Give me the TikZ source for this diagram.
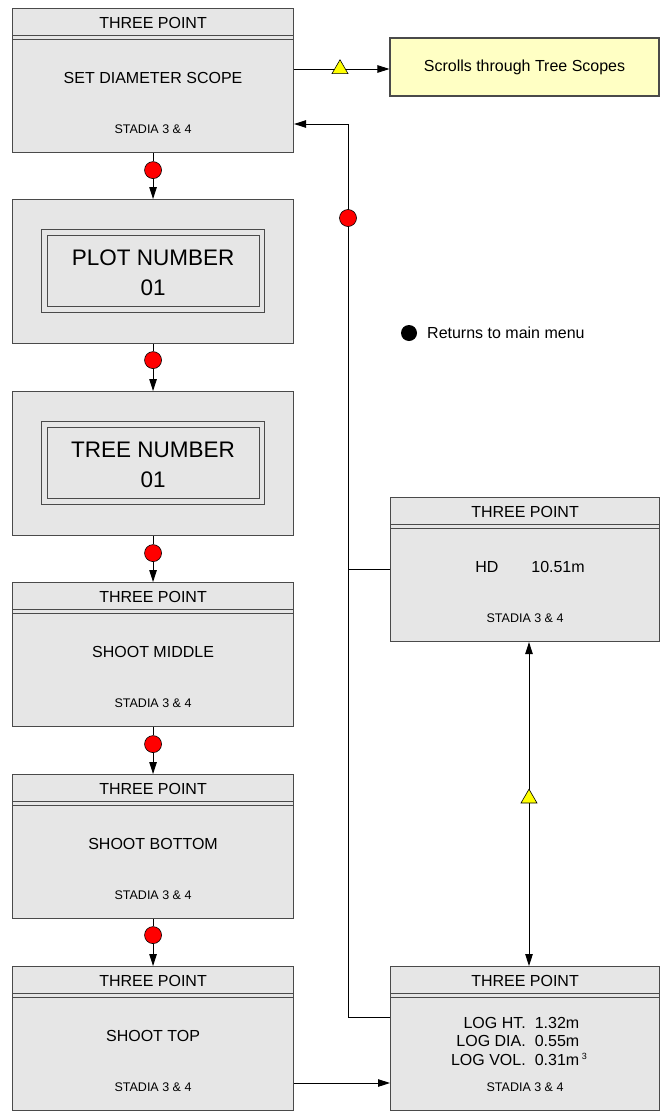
\documentclass[tikz,border=0pt]{standalone}
\usepackage{fontspec}
\setmainfont{Liberation Sans}
\usetikzlibrary{arrows.meta,calc,shapes.geometric}

\definecolor{panelfill}{HTML}{E6E6E6}
\definecolor{edgegray}{HTML}{4A4A4A}
\definecolor{notefill}{HTML}{FFFFC4}
\definecolor{flag}{HTML}{FFFF00}

\newcommand\hdrsize{\fontsize{16}{19}\selectfont}
\newcommand\smallsize{\fontsize{12.5}{15}\selectfont}
\newcommand\bigsize{\fontsize{22.5}{26}\selectfont}

% a screen panel: title bar with a double rule, and a STADIA footer
\newcommand\screenbox[3]{%
  \node[panel, minimum width=#3] (#1) at (#2) {};
  \draw[rule] ($(#1.north west)+(0,27)$) -- ($(#1.north east)+(0,27)$);
  \draw[rule] ($(#1.north west)+(0,31)$) -- ($(#1.north east)+(0,31)$);
  \node[hdr] (#1-hdr) at ($(#1.north)+(0,15)$) {THREE POINT};
  \node[stadia] (#1-st) at ($(#1.north)+(0,121)$) {STADIA 3 \& 4};
}

% an entry panel: a framed two-line number display
\newcommand\numberbox[3]{%
  \node[panel] (#1) at (#2) {};
  \draw[rule] ($(#1.north west)+(29,30)$) rectangle ($(#1.north west)+(252,113)$);
  \draw[rule] ($(#1.north west)+(35,36)$) rectangle ($(#1.north west)+(247,107)$);
  \node[big] (#1-a) at ($(#1.north)+(0,59)$) {#3};
  \node[big] (#1-b) at ($(#1.north)+(0,89)$) {01};
}

\tikzset{
  panel/.style={draw=edgegray, fill=panelfill, line width=1.1pt, anchor=north west,
    minimum width=281pt, minimum height=144pt, inner sep=0pt},
  rule/.style={draw=edgegray, line width=1pt},
  hdr/.style={font=\hdrsize, inner sep=0pt},
  body/.style={font=\hdrsize, inner sep=0pt},
  stadia/.style={font=\smallsize, inner sep=0pt},
  big/.style={font=\bigsize, inner sep=0pt},
  link/.style={draw=black, line width=0.9pt},
  arr/.style={link, -{Triangle[length=12pt,width=7.5pt]}},
  twoway/.style={link, {Triangle[length=12pt,width=7.5pt]}-{Triangle[length=12pt,width=7.5pt]}},
  reddot/.style={circle, fill=red, draw=black, line width=0.6pt, minimum size=17pt, inner sep=0pt},
  flagtri/.style={regular polygon, regular polygon sides=3, fill=flag, draw=black,
    line width=0.6pt, minimum size=18.5pt, inner sep=0pt},
}

\begin{document}
\begin{tikzpicture}[x=1pt, y=-1pt]
\useasboundingbox (0,0) rectangle (660,1111);

% left column of screens
\screenbox{scope}{12,8}{281pt}
\node[body] (scope-txt) at ($(scope.north)+(0,70)$) {SET DIAMETER SCOPE};
\numberbox{plot}{12,199}{PLOT NUMBER}
\numberbox{tree}{12,391}{TREE NUMBER}
\screenbox{middle}{12,582}{281pt}
\node[body] (middle-txt) at ($(middle.north)+(0,70)$) {SHOOT MIDDLE};
\screenbox{bottom}{12,774}{281pt}
\node[body] (bottom-txt) at ($(bottom.north)+(0,70)$) {SHOOT BOTTOM};
\screenbox{top}{12,966}{281pt}
\node[body] (top-txt) at ($(top.north)+(0,70)$) {SHOOT TOP};

% right column
\node[draw=edgegray, fill=notefill, line width=1.1pt, minimum width=269pt, minimum height=58pt,
  inner sep=0pt, font=\hdrsize] (note) at (524.5,67) {Scrolls through Tree Scopes};
\screenbox{hd}{390,497}{269pt}
\node[body] (hd-txt) at (530,567) {HD\hspace{33pt}10.51m};
\screenbox{log}{390,966}{269pt}
\node[body, align=left] (log-txt) at (519,1043) {%
  \begin{tabular}{@{}r@{\hspace{9pt}}l@{}}
  LOG HT. & 1.32m\\[-0.5pt]
  LOG DIA. & 0.55m\\[-0.5pt]
  LOG VOL. & 0.31m\,\raisebox{6pt}{\fontsize{9}{9}\selectfont 3}
  \end{tabular}};

% legend
\node[circle, fill=black, minimum size=16pt, inner sep=0pt] (bullet) at (409,333) {};
\node[body, anchor=west] (legend) at (427,333) {Returns to main menu};

% main sequence down the left column
\node[reddot] (d1) at ($(scope.south)+(0,17)$) {};
\node[reddot] (d2) at ($(plot.south)+(0,16)$) {};
\node[reddot] (d3) at ($(tree.south)+(0,17)$) {};
\node[reddot] (d4) at ($(middle.south)+(0,17)$) {};
\node[reddot] (d5) at ($(bottom.south)+(0,16)$) {};
\draw[link] (scope) -- (d1); \draw[arr] (d1) -- (plot);
\draw[link] (plot) -- (d2);  \draw[arr] (d2) -- (tree);
\draw[link] (tree) -- (d3);  \draw[arr] (d3) -- (middle);
\draw[link] (middle) -- (d4); \draw[arr] (d4) -- (bottom);
\draw[link] (bottom) -- (d5); \draw[arr] (d5) -- (top);

% scope scrolling: the line passes under the marker
\coordinate (sy) at (0,69);
\draw[arr] (scope.east |- sy) -- (note.west |- sy);
\node[flagtri] (t1) at (340,69) {};

% result panels
\coordinate (ry) at (0,1083);
\draw[arr] (top.east |- ry) -- (log.west |- ry);
\coordinate (vx) at (529,0);
\draw[twoway] (hd.south -| vx) -- (log.north -| vx);
\node[flagtri] (t2) at (529,798.4) {};

% return path to the scope screen
\coordinate (jl) at (348,1017);
\coordinate (jt) at (348,124);
\draw[arr] (log.west |- jl) -- (jl) -- (jt) -- (scope.east |- jt);
\draw[link] (hd.west) -- (hd.west -| jl);
\node[reddot] (d6) at (348,218) {};
\end{tikzpicture}
\end{document}
